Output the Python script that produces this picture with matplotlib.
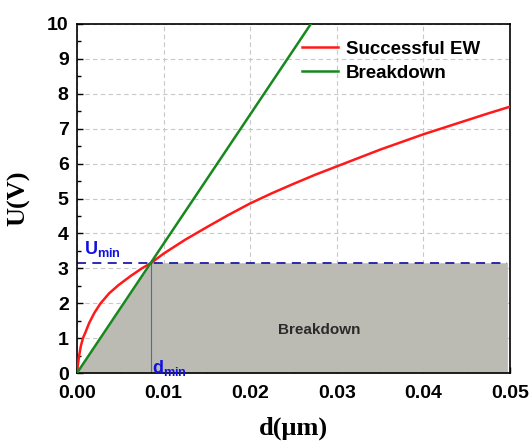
import numpy as np
from matplotlib import pyplot as plt
from matplotlib.ticker import MultipleLocator

# data
d_ew = [0, 0.00003, 0.00008, 0.00015, 0.00023, 0.00045, 0.00069, 0.001, 0.0014,
        0.002, 0.0027, 0.0037, 0.0048, 0.0062, 0.0075, 0.0086, 0.01,
        0.0125, 0.015, 0.0175, 0.02, 0.0225, 0.025, 0.0275, 0.03,
        0.0325, 0.035, 0.0375, 0.04, 0.0425, 0.045, 0.0475, 0.05]
u_ew = [0, 0.09, 0.18, 0.32, 0.47, 0.78, 1.0, 1.18, 1.43,
        1.72, 1.99, 2.28, 2.52, 2.78, 3.0, 3.16, 3.42,
        3.82, 4.18, 4.53, 4.86, 5.15, 5.42, 5.68, 5.92,
        6.16, 6.4, 6.62, 6.84, 7.04, 7.24, 7.44, 7.63]
d_bd = [0, 0.027]
u_bd = [0, 10]
d_min = 0.0086
u_min = 3.16
d_end = 0.0497

fig = plt.figure(figsize=(5.3, 4.43), dpi=100)
ax = fig.add_axes([77/530, 1 - 373/443, (510 - 77)/530, (373 - 24)/443])

# shaded breakdown region: under the green line up to d_min, then a rectangle
fx = [0, d_min, d_end]
fy = [0, u_min, u_min]
ax.fill_between(fx, 0, fy, color='#bcbbb3', zorder=1, lw=0)

ax.plot([0, d_end], [u_min, u_min], color='#1c1ca8', ls=(0, (5, 3.5)), lw=1.3, zorder=2)
ax.plot([d_min, d_min], [0, u_min], color='#2f72d0', lw=0.8, zorder=2)

ax.plot(d_ew, u_ew, color='#ff1a1a', lw=1.8, label='Successful EW', zorder=3)
ax.plot(d_bd, u_bd, color='#16881e', lw=1.8, label='Breakdown', zorder=3)

ax.set_xlim(0, 0.05)
ax.set_ylim(0, 10)
ax.xaxis.set_major_locator(MultipleLocator(0.01))
ax.xaxis.set_minor_locator(MultipleLocator(0.005))
ax.yaxis.set_major_locator(MultipleLocator(1))
ax.yaxis.set_minor_locator(MultipleLocator(0.5))
ax.set_xticks([0, 0.01, 0.02, 0.03, 0.04, 0.05])
ax.set_xticklabels(['0.00', '0.01', '0.02', '0.03', '0.04', '0.05'])
ax.tick_params(which='both', direction='in', top=False, right=False,
               width=1.0, labelsize=14)
ax.tick_params(which='major', length=4.5)
ax.tick_params(axis='x', which='major', pad=9)
ax.tick_params(axis='y', which='major', pad=6)
ax.tick_params(which='minor', length=3)
for lab in ax.get_xticklabels() + ax.get_yticklabels():
    lab.set_fontweight('bold')
    lab.set_family('Liberation Sans')
for s in ax.spines.values():
    s.set_linewidth(1.2)

ax.grid(True, which='major', color='#c8c8c8', ls=(0, (4, 3)), lw=0.8, zorder=0)
ax.set_axisbelow(True)

ax.set_xlabel('d(μm)', fontsize=19, fontweight='bold', family='Liberation Serif', labelpad=10)
ax.set_ylabel('U(V)', fontsize=19, fontweight='bold', family='Liberation Serif', labelpad=12)

ax.text(0.0008, 3.42, r'U$_{\mathregular{min}}$', color='#1010e0', fontsize=13,
        fontweight='bold', family='Liberation Sans', zorder=4)
ax.text(d_min + 0.0001, 0.0, r'd$_{\mathregular{min}}$', color='#1010e0', fontsize=13,
        fontweight='bold', family='Liberation Sans', zorder=4)
ax.text(0.028, 1.23, 'Breakdown', color='#2a2a2a', fontsize=11, fontweight='bold',
        family='Liberation Sans', ha='center', va='center', zorder=4)

leg = ax.legend(loc='upper right', bbox_to_anchor=(0.97, 1.0), frameon=False,
                prop={'family': 'Liberation Sans', 'weight': 'bold', 'size': 13.5},
                handlelength=1.95, handletextpad=0.4, labelspacing=0.35)

fig.savefig('out.png', dpi=100)
